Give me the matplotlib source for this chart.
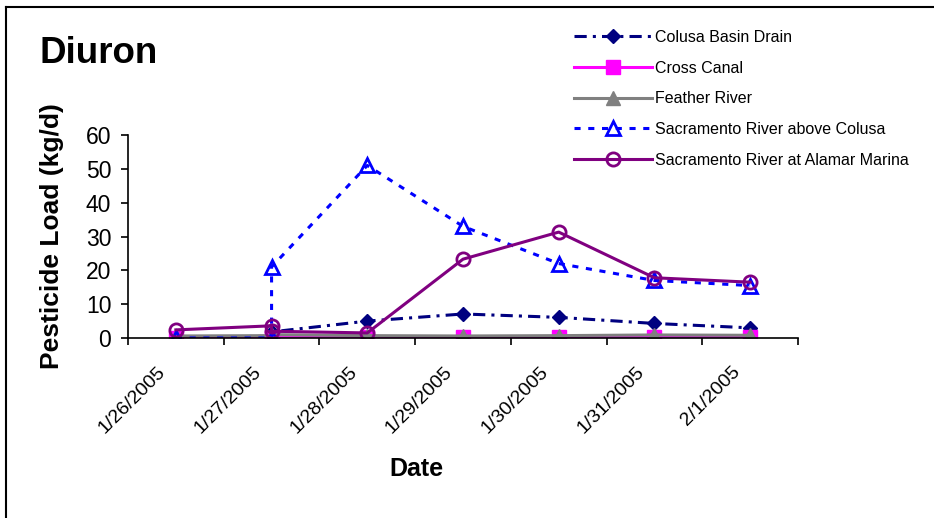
import matplotlib
matplotlib.use("Agg")
import matplotlib.pyplot as plt
from matplotlib.lines import Line2D
from matplotlib.transforms import ScaledTranslation

plt.rcParams['font.family'] = ['Liberation Sans', 'DejaVu Sans']

# sampling dates (1/27 was sampled twice)
dates = ['1/26/2005', '1/27/2005', '1/27/2005', '1/28/2005', '1/29/2005',
         '1/30/2005', '1/31/2005', '2/1/2005']
categories = ['1/26/2005', '1/27/2005', '1/28/2005', '1/29/2005',
              '1/30/2005', '1/31/2005', '2/1/2005']

colusa_basin = [0.3, 0.5, 1.8, 5.0, 7.1, 6.1, 4.3, 3.0]
cross_canal = [0.1, 0.1, 0.1, 0.2, 0.3, 0.3, 0.4, 0.4]
feather = [0.6, 0.7, 1.0, 0.7, 0.6, 0.7, 0.9, 0.8]
sac_colusa = [0.0, 0.0, 21.0, 51.0, 33.0, 22.0, 17.0, 15.5]
sac_alamar = [2.4, 3.6, 2.0, 1.5, 23.3, 31.3, 17.8, 16.5]

x = [categories.index(d) for d in dates]

fig = plt.figure(figsize=(9.34, 5.18), dpi=100)
ax = fig.add_axes([128 / 934, 1 - 338 / 518, 670 / 934, 203 / 518])

ax.plot(x, colusa_basin, color='#000080', lw=2.2, dashes=[4, 2, 1, 2],
        marker='D', ms=7, label='Colusa Basin Drain')
ax.plot(x, cross_canal, color='#FF00FF', lw=2.2, marker='s', ms=10,
        label='Cross Canal')
ax.plot(x, feather, color='#808080', lw=2.2, marker='^', ms=10,
        label='Feather River')
ax.plot(x, sac_colusa, color='#0000FF', lw=2.2, dashes=[2, 2.5],
        marker='^', ms=10, mfc='none', mew=2,
        label='Sacramento River above Colusa')
ax.plot(x, sac_alamar, color='#800080', lw=2.2, marker='o', ms=9.5,
        mfc='none', mew=2, label='Sacramento River at Alamar Marina')

ax.set_xlim(-0.5, len(categories) - 0.5)
ax.set_ylim(0, 60)
ax.set_yticks(range(0, 61, 10))
ax.set_xticks([i - 0.5 for i in range(len(categories) + 1)])
ax.set_xticklabels([])
ax.set_xticks(range(len(categories)), minor=True)
ax.set_xticklabels(categories, minor=True, rotation=45, ha='right',
                   va='top', fontsize=14)
ax.tick_params(axis='x', which='minor', length=0, pad=18)
ax.tick_params(axis='x', which='major', length=5, width=1.2, direction='out')
ax.tick_params(axis='y', length=5, width=1.2, direction='out', pad=7,
               labelsize=16.5)
for lab in ax.get_xticklabels(minor=True):
    lab.set_transform(lab.get_transform() +
                      ScaledTranslation(-7 / 100, 0, fig.dpi_scale_trans))

for side in ['top', 'right']:
    ax.spines[side].set_visible(False)
for side in ['left', 'bottom']:
    ax.spines[side].set_linewidth(1.2)

ax.set_ylabel('Pesticide Load (kg/d)', fontsize=19, fontweight='bold')
ax.yaxis.set_label_coords(-0.0955, 0.5)
ax.set_xlabel('Date', fontsize=18, fontweight='bold')
ax.xaxis.set_label_coords(0.431, -0.586)

fig.text(40 / 934, 1 - 63 / 518, 'Diuron', fontsize=26.5, fontweight='bold',
         va='baseline')

fig.legend(loc='upper left', bbox_to_anchor=(574 / 934, 1 - 30 / 518),
           frameon=False, fontsize=11.5, handlelength=4.9,
           handletextpad=0.2, labelspacing=0.98, borderpad=0,
           borderaxespad=0)

# chart frame (top and left edges only)
fig.add_artist(Line2D([5.5 / 934, 1], [1 - 7 / 518, 1 - 7 / 518],
                      color='black', lw=1.5, transform=fig.transFigure))
fig.add_artist(Line2D([5.5 / 934, 5.5 / 934], [0, 1 - 7 / 518],
                      color='black', lw=1.5, transform=fig.transFigure))

fig.savefig('out.png', dpi=100)
